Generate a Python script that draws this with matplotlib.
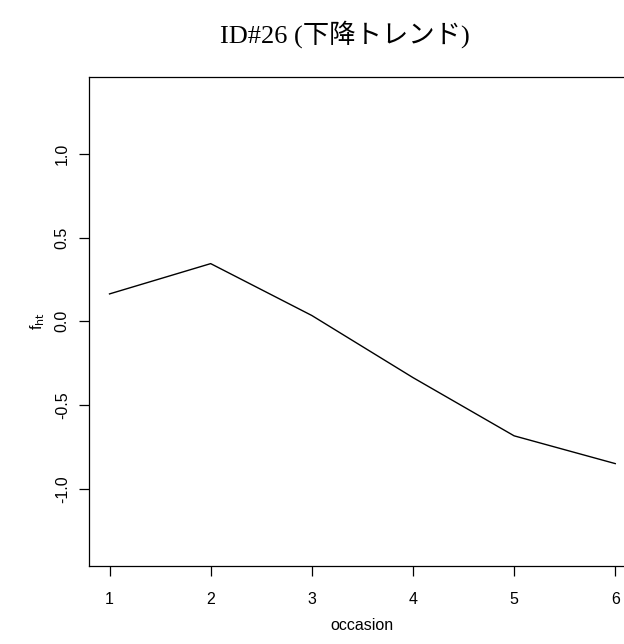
"""Declining trend profile for ID#26, redrawn in the style of an R base plot."""

import matplotlib

matplotlib.use("Agg")
import matplotlib.pyplot as plt

# values
occasion = [1, 2, 3, 4, 5, 6]
f_ht = [0.164, 0.345, 0.035, -0.336, -0.684, -0.850]
x_ticks = [1, 2, 3, 4, 5, 6]
y_ticks = [-1.0, -0.5, 0.0, 0.5, 1.0]
y_tick_labels = ["-1.0", "-0.5", "0.0", "0.5", "1.0"]

plt.rcParams["font.family"] = ["Liberation Sans", "DejaVu Sans"]

fig = plt.figure(figsize=(6.24, 6.44), dpi=100)
ax = fig.add_axes([0.1431, 0.1216, 0.8753, 0.7588])

ax.plot(occasion, f_ht, color="black", linewidth=1.0)

ax.set_xlim(0.8, 6.2)
ax.set_ylim(-1.46, 1.46)
ax.set_xticks(x_ticks)
ax.set_xticklabels([str(t) for t in x_ticks])
ax.set_yticks(y_ticks)
ax.set_yticklabels(y_tick_labels, rotation=90, va="center")

ax.tick_params(direction="out", length=7, width=0.9, labelsize=11.5)
ax.tick_params(axis="x", pad=12)
ax.tick_params(axis="y", pad=7)
for side in ax.spines.values():
    side.set_linewidth(0.9)
# the reference is cropped just before the right-hand edge of the box
ax.spines["right"].set_visible(False)

ax.set_xlabel("occasion", fontsize=11.5, labelpad=8)
ax.set_ylabel(r"f$_{\mathrm{ht}}$", fontsize=11.5, labelpad=6)

fig.text(
    0.553,
    0.947,
    "ID#26 (下降トレンド)",
    ha="center",
    va="center",
    fontsize=19,
    family=["Liberation Serif", "Noto Sans CJK JP"],
)

fig.savefig("out.png", dpi=100)
